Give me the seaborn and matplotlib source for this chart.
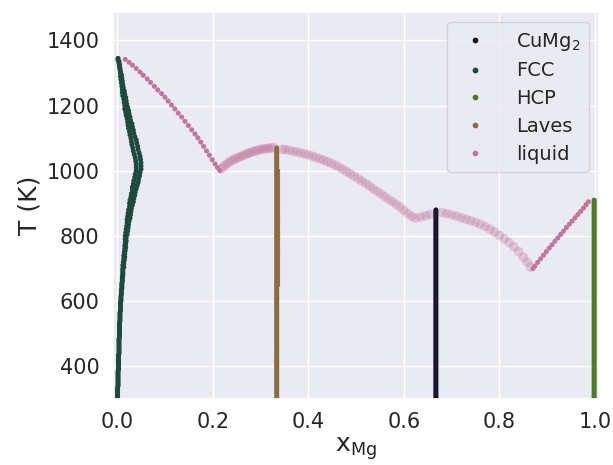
import numpy as np
import pandas as pd
import matplotlib
matplotlib.use("Agg")
import matplotlib.pyplot as plt
import seaborn as sns

# ---------------- data ----------------
PHASES = ["CuMg2", "FCC", "HCP", "Laves", "liquid"]
PHASE_LABELS = ["CuMg$_2$", "FCC", "HCP", "Laves", "liquid"]
PHASE_COLORS = ["#1a1530", "#1d4a3d", "#52782e", "#8e6b3c", "#c2749f"]

# temperature sampling grids of the calculation (K)
T_GRID = [300, 310, 320, 330, 340, 350, 360, 370, 380, 390,
          400, 410, 420, 430, 440, 450, 460, 470, 480, 490,
          500, 510, 520, 530, 540, 550, 560, 570, 580, 590,
          600, 610, 620, 630, 640, 650, 660, 670, 680, 690,
          700, 710, 720, 730, 740, 750, 760, 770, 780, 790,
          800, 810, 820, 830, 840, 850, 860, 870, 880, 890,
          900, 910, 920, 930, 940, 950, 960, 970, 980, 990,
          1000, 1010, 1020, 1030, 1040, 1050, 1060, 1070, 1080, 1090,
          1100, 1110, 1120, 1130, 1140, 1150, 1160, 1170, 1180, 1190,
          1200, 1210, 1220, 1230, 1240, 1250, 1260, 1270, 1280, 1290,
          1300, 1310, 1320, 1330, 1340]
T_HALF = [305, 315, 325, 335, 345, 355, 365, 375, 385, 395,
          405, 415, 425, 435, 445, 455, 465, 475, 485, 495,
          505, 515, 525, 535, 545, 555, 565, 575, 585, 595,
          605, 615, 625, 635, 645, 655, 665, 675, 685, 695,
          705, 715, 725, 735, 745, 755, 765, 775, 785, 795,
          805, 815, 825, 835, 845, 855, 865, 875, 885, 895,
          905, 915, 925, 935, 945, 955, 965, 975, 985, 995,
          1005, 1015, 1025, 1035, 1045, 1055, 1065, 1075, 1085, 1095,
          1105, 1115, 1125, 1135, 1145, 1155, 1165, 1175, 1185, 1195,
          1205, 1215, 1225, 1235, 1245, 1255, 1265, 1275, 1285, 1295,
          1305, 1315, 1325, 1335, 1345]

# stoichiometric compounds / terminal phases (single composition)
cumg2_T = T_GRID[:59] + T_HALF[:58]          # up to ~880 K
cumg2_x = [0.667] * len(cumg2_T)
hcp_T = T_GRID[:62] + T_HALF[:61]            # up to ~910 K
hcp_x = [0.998] * len(hcp_T)
laves_T = T_GRID[:78] + T_HALF[:77]          # up to ~1070 K
laves_x = [0.334] * len(laves_T)
# slight Mg-rich deviation of the Laves phase (about 650-1000 K)
laves_dev_T = T_GRID[35:71]
laves_dev_x = [0.336] * len(laves_dev_T)

# FCC (Cu-rich) solubility band: left edge (on T_GRID) / right edge (on T_HALF)
fcc_x_lo = [0.001, 0.001, 0.001, 0.001, 0.002, 0.002, 0.002, 0.002, 0.002, 0.003,
            0.003, 0.003, 0.003, 0.003, 0.004, 0.004, 0.004, 0.004, 0.004, 0.005,
            0.005, 0.005, 0.005, 0.005, 0.006, 0.006, 0.006, 0.007, 0.007, 0.007,
            0.008, 0.008, 0.009, 0.009, 0.010, 0.010, 0.011, 0.011, 0.012, 0.012,
            0.012, 0.012, 0.013, 0.014, 0.014, 0.015, 0.016, 0.016, 0.017, 0.017,
            0.017, 0.018, 0.019, 0.020, 0.021, 0.021, 0.022, 0.023, 0.024, 0.026,
            0.026, 0.027, 0.029, 0.030, 0.032, 0.032, 0.034, 0.035, 0.037, 0.038,
            0.040, 0.040, 0.040, 0.039, 0.038, 0.036, 0.034, 0.033, 0.031, 0.030,
            0.029, 0.027, 0.026, 0.024, 0.023, 0.022, 0.021, 0.019, 0.018, 0.016,
            0.016, 0.015, 0.014, 0.012, 0.011, 0.011, 0.010, 0.009, 0.008, 0.007,
            0.007, 0.006, 0.005, 0.004, 0.002]
fcc_x_hi = [0.001, 0.001, 0.001, 0.001, 0.002, 0.002, 0.002, 0.002, 0.002, 0.003,
            0.003, 0.003, 0.003, 0.003, 0.004, 0.004, 0.004, 0.004, 0.004, 0.005,
            0.005, 0.005, 0.005, 0.005, 0.006, 0.006, 0.006, 0.007, 0.007, 0.007,
            0.008, 0.008, 0.009, 0.009, 0.010, 0.010, 0.011, 0.011, 0.012, 0.012,
            0.014, 0.014, 0.015, 0.016, 0.016, 0.017, 0.018, 0.018, 0.019, 0.019,
            0.021, 0.022, 0.023, 0.024, 0.025, 0.027, 0.028, 0.029, 0.030, 0.032,
            0.034, 0.035, 0.037, 0.038, 0.040, 0.042, 0.044, 0.045, 0.047, 0.048,
            0.050, 0.050, 0.050, 0.049, 0.048, 0.046, 0.044, 0.043, 0.041, 0.040,
            0.037, 0.035, 0.034, 0.032, 0.031, 0.028, 0.027, 0.025, 0.024, 0.022,
            0.020, 0.019, 0.018, 0.016, 0.015, 0.013, 0.012, 0.011, 0.010, 0.009,
            0.007, 0.006, 0.005, 0.004, 0.002]

# liquidus, sharp parts (Cu side and Mg side)
liquid_x = [0.017, 0.025, 0.032, 0.040, 0.048, 0.055, 0.063, 0.070, 0.078, 0.085,
            0.093, 0.100, 0.107, 0.114, 0.121, 0.128, 0.135, 0.142, 0.149, 0.156,
            0.163, 0.169, 0.175, 0.181, 0.187, 0.193, 0.199, 0.205, 0.210, 0.215,
            0.870, 0.874, 0.880, 0.886, 0.892, 0.898, 0.904, 0.910, 0.916, 0.922,
            0.928, 0.934, 0.940, 0.946, 0.952, 0.958, 0.964, 0.970, 0.976, 0.981,
            0.986]
liquid_T = [1342, 1333, 1324, 1314, 1303, 1293, 1282, 1271, 1259, 1248,
            1237, 1226, 1214, 1202, 1190, 1177, 1165, 1152, 1139, 1126,
            1113, 1101, 1088, 1075, 1061, 1048, 1034, 1021, 1010, 1001,
            700, 708, 719, 730, 741, 752, 763, 773, 784, 794,
            805, 815, 826, 836, 846, 856, 866, 876, 886, 896,
            905]

# liquidus, diffuse parts (around the Laves and CuMg2 compounds)
liquid_band_x = [0.218, 0.222, 0.227, 0.232, 0.237, 0.242, 0.247, 0.252, 0.257, 0.262,
                 0.267, 0.272, 0.277, 0.282, 0.287, 0.292, 0.297, 0.302, 0.307, 0.312,
                 0.317, 0.322, 0.327,
                 0.345, 0.352, 0.360, 0.368, 0.376, 0.384, 0.392, 0.400, 0.408, 0.416,
                 0.424, 0.432, 0.440, 0.448, 0.456, 0.464, 0.472, 0.480, 0.488, 0.496,
                 0.504, 0.512, 0.520, 0.528, 0.536, 0.544, 0.552, 0.560, 0.568, 0.576,
                 0.584, 0.592, 0.600, 0.608, 0.616, 0.624, 0.635, 0.645, 0.655,
                 0.680, 0.690, 0.700, 0.710, 0.720, 0.730, 0.740, 0.750, 0.760, 0.770,
                 0.780, 0.790, 0.800, 0.810, 0.820, 0.830, 0.840, 0.850, 0.858, 0.865]
liquid_band_T = [1006, 1012, 1018, 1024, 1029, 1033, 1037, 1040, 1043, 1046,
                 1049, 1052, 1055, 1058, 1060, 1062, 1064, 1066, 1067, 1068,
                 1069, 1070, 1071,
                 1066, 1065, 1063, 1060, 1058, 1055, 1052, 1049, 1045, 1041,
                 1037, 1033, 1028, 1023, 1018, 1012, 1005, 998, 991, 984,
                 976, 969, 961, 953, 945, 937, 929, 921, 913, 905,
                 897, 889, 879, 869, 860, 855, 858, 862, 866,
                 872, 869, 865, 861, 856, 852, 847, 842, 836, 829,
                 821, 812, 802, 792, 780, 767, 752, 735, 720, 705]

X_TICKS = [0.0, 0.2, 0.4, 0.6, 0.8, 1.0]
Y_TICKS = [400, 600, 800, 1000, 1200, 1400]

# ---------------- tables ----------------
points = pd.concat([
    pd.DataFrame({"phase": "CuMg2", "x": cumg2_x, "T": cumg2_T}),
    pd.DataFrame({"phase": "FCC", "x": fcc_x_lo, "T": T_GRID}),
    pd.DataFrame({"phase": "FCC", "x": fcc_x_hi, "T": T_HALF}),
    pd.DataFrame({"phase": "HCP", "x": hcp_x, "T": hcp_T}),
    pd.DataFrame({"phase": "Laves", "x": laves_x, "T": laves_T}),
    pd.DataFrame({"phase": "Laves", "x": laves_dev_x, "T": laves_dev_T}),
    pd.DataFrame({"phase": "liquid", "x": liquid_x, "T": liquid_T}),
], ignore_index=True)
band = pd.DataFrame({"phase": "liquid", "x": liquid_band_x, "T": liquid_band_T})

# ---------------- plot ----------------
sns.set_theme(style="darkgrid")
plt.rcParams["font.family"] = ["DejaVu Sans"]
plt.rcParams["mathtext.fontset"] = "dejavusans"

fig = plt.figure(figsize=(6.13, 4.65), dpi=100)
ax = fig.add_axes([0.184, 0.142, 0.793, 0.832])

sns.scatterplot(data=band, x="x", y="T", hue="phase", hue_order=PHASES,
                palette=PHASE_COLORS, s=48, alpha=0.33, linewidth=0,
                legend=False, ax=ax)
sns.scatterplot(data=points, x="x", y="T", hue="phase", hue_order=PHASES,
                palette=PHASE_COLORS, s=13, alpha=1.0, linewidth=0, ax=ax)

ax.set_xlim(-0.009, 1.008)
ax.set_ylim(300, 1487)
ax.set_xticks(X_TICKS)
ax.set_xticklabels([f"{v:.1f}" for v in X_TICKS])
ax.set_yticks(Y_TICKS)
ax.tick_params(axis="both", labelsize=15, colors="#262626")
ax.set_xlabel("x$_{\\mathrm{Mg}}$", fontsize=18, color="#262626", labelpad=2)
ax.set_ylabel("T (K)", fontsize=18, color="#262626")

handles, labels = ax.get_legend_handles_labels()
leg = ax.legend(handles, PHASE_LABELS, loc="upper right", fontsize=14,
                markerscale=1.15, handletextpad=1.1, borderpad=0.45,
                labelspacing=0.45)
for h in leg.legend_handles:
    h.set_alpha(1.0)

fig.savefig("out.png", dpi=100)
